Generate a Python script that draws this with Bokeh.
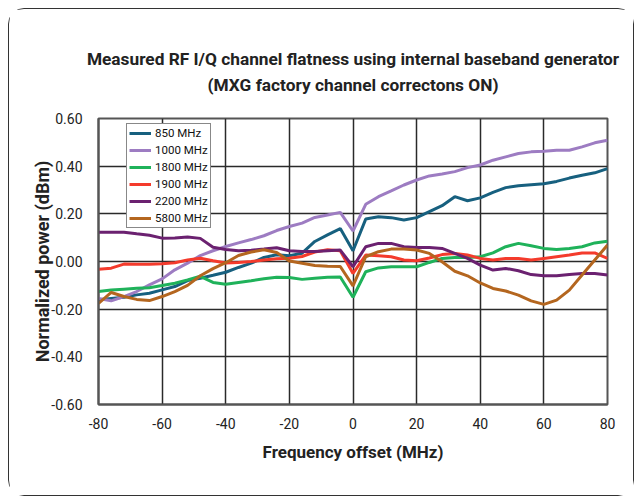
from bokeh.plotting import figure
from bokeh.models import FixedTicker, NumeralTickFormatter, Title, Range1d, Legend
from bokeh.embed import file_html
from bokeh.resources import INLINE

freq = list(range(-80, 81, 4))

mhz_850 = [-0.16, -0.155, -0.15, -0.14, -0.133, -0.119, -0.105, -0.08, -0.07, -0.058,
           -0.045, -0.025, -0.007, 0.017, 0.028, 0.024, 0.035, 0.084, 0.112, 0.138,
           0.045, 0.178, 0.188, 0.184, 0.174, 0.184, 0.209, 0.234, 0.272, 0.255,
           0.267, 0.29, 0.31, 0.318, 0.322, 0.326, 0.336, 0.35, 0.362, 0.372, 0.39]
mhz_1000 = [-0.155, -0.165, -0.147, -0.126, -0.098, -0.073, -0.035, -0.007, 0.025, 0.045,
            0.063, 0.078, 0.092, 0.108, 0.13, 0.147, 0.161, 0.185, 0.195, 0.206,
            0.128, 0.24, 0.272, 0.296, 0.321, 0.342, 0.359, 0.367, 0.377, 0.394,
            0.405, 0.425, 0.439, 0.453, 0.46, 0.463, 0.467, 0.467, 0.481, 0.498, 0.509]
mhz_1800 = [-0.126, -0.12, -0.116, -0.112, -0.11, -0.101, -0.091, -0.077, -0.062, -0.088,
            -0.095, -0.088, -0.081, -0.072, -0.066, -0.067, -0.075, -0.07, -0.066, -0.065,
            -0.15, -0.043, -0.027, -0.022, -0.022, -0.022, -0.004, 0.013, 0.017, 0.017,
            0.02, 0.036, 0.062, 0.076, 0.066, 0.055, 0.05, 0.055, 0.062, 0.078, 0.085]
mhz_1900 = [-0.033, -0.028, -0.011, -0.012, -0.012, -0.009, -0.005, 0.006, 0.014, 0.003,
            -0.006, -0.004, 0.0, 0.006, 0.012, 0.014, 0.021, 0.04, 0.049, 0.045,
            -0.05, 0.027, 0.024, 0.02, 0.006, 0.003, 0.015, 0.029, 0.034, 0.027,
            0.013, 0.006, 0.013, 0.013, 0.006, 0.013, 0.02, 0.027, 0.036, 0.036, 0.013]
mhz_2200 = [0.123, 0.123, 0.123, 0.116, 0.11, 0.098, 0.099, 0.103, 0.097, 0.06,
            0.05, 0.045, 0.047, 0.052, 0.058, 0.045, 0.042, 0.042, 0.045, 0.048,
            -0.022, 0.062, 0.076, 0.076, 0.062, 0.059, 0.059, 0.055, 0.034, 0.013,
            -0.015, -0.036, -0.029, -0.039, -0.055, -0.06, -0.06, -0.055, -0.05, -0.05, -0.057]
mhz_5800 = [-0.176, -0.13, -0.147, -0.159, -0.164, -0.147, -0.126, -0.1, -0.06, -0.03,
            -0.005, 0.025, 0.04, 0.049, 0.038, 0.002, -0.007, -0.017, -0.02, -0.021,
            -0.102, 0.02, 0.041, 0.052, 0.052, 0.048, 0.034, -0.001, -0.041, -0.06,
            -0.09, -0.113, -0.124, -0.141, -0.165, -0.18, -0.162, -0.12, -0.057, 0.006, 0.069]

series_names = ["850 MHz", "1000 MHz", "1800 MHz", "1900 MHz", "2200 MHz", "5800 MHz"]
series_values = [mhz_850, mhz_1000, mhz_1800, mhz_1900, mhz_2200, mhz_5800]
series_colors = ["#17607f", "#9d7cc2", "#1fb25a", "#f43b2c", "#6b2170", "#b4661f"]

x_ticks = [-80, -60, -40, -20, 0, 20, 40, 60, 80]
y_ticks = [-0.6, -0.4, -0.2, 0.0, 0.2, 0.4, 0.6]

title_lines = ["Measured RF I/Q channel flatness using internal baseband generator",
               "(MXG factory channel correctons ON)"]

FONT = "Roboto"

p = figure(width=626, height=488, output_backend="svg", toolbar_location=None,
           x_range=Range1d(-80, 80), y_range=Range1d(-0.6, 0.6),
           min_border_left=89, min_border_right=28, min_border_top=109, min_border_bottom=93)

p.styles = {"border": "1.5px solid #333", "border-radius": "16px",
            "margin-left": "8px", "margin-top": "8px"}
p.title.visible = False

ttl = Title(text="\n".join(title_lines), align="center", text_align="center",
            text_font=FONT, text_font_size="17.3px", text_font_style="bold",
            text_color="#222", text_line_height=1.3, standoff=47)
p.add_layout(ttl, "above")

renderers = []
for name, vals, col in zip(series_names, series_values, series_colors):
    r = p.line(freq, vals, line_color=col, line_width=3)
    renderers.append((name, [r]))

legend = Legend(items=renderers, location=(28, 176))
legend.label_text_font = FONT
legend.label_text_font_size = "11.5px"
legend.label_text_color = "#111"
legend.glyph_width = 22
legend.glyph_height = 14
legend.label_height = 14
legend.spacing = 3
legend.padding = 2
legend.margin = 0
legend.label_standoff = 4
legend.border_line_color = "#111"
legend.border_line_width = 1.5
legend.background_fill_color = "white"
legend.background_fill_alpha = 1
p.add_layout(legend)

p.xaxis.ticker = FixedTicker(ticks=x_ticks)
p.yaxis.ticker = FixedTicker(ticks=y_ticks)
p.xaxis.formatter = NumeralTickFormatter(format="0")
p.yaxis.formatter = NumeralTickFormatter(format="0.00")

for ax in (p.xaxis, p.yaxis):
    ax.major_tick_line_color = None
    ax.minor_tick_line_color = None
    ax.axis_line_color = "#555"
    ax.axis_line_width = 2
    ax.major_label_text_font = FONT
    ax.major_label_text_font_size = "14px"
    ax.major_label_text_color = "#222"
    ax.axis_label_text_font = FONT
    ax.axis_label_text_font_style = "bold"
    ax.axis_label_text_color = "#222"

p.xaxis.axis_label_text_font_size = "17px"
p.yaxis.axis_label_text_font_size = "18px"
p.xaxis.axis_label = "Frequency offset (MHz)"
p.yaxis.axis_label = "Normalized power (dBm)"
p.xaxis.major_label_standoff = 7
p.yaxis.major_label_standoff = 10
p.xaxis.axis_label_standoff = 10
p.yaxis.axis_label_standoff = -5

p.xgrid.ticker = FixedTicker(ticks=x_ticks)
p.ygrid.ticker = FixedTicker(ticks=y_ticks)
p.grid.grid_line_color = "#2a2a2a"
p.grid.grid_line_width = 1.5
p.outline_line_color = "#555"
p.outline_line_width = 2

open("out.html", "w").write(file_html(p, INLINE))
